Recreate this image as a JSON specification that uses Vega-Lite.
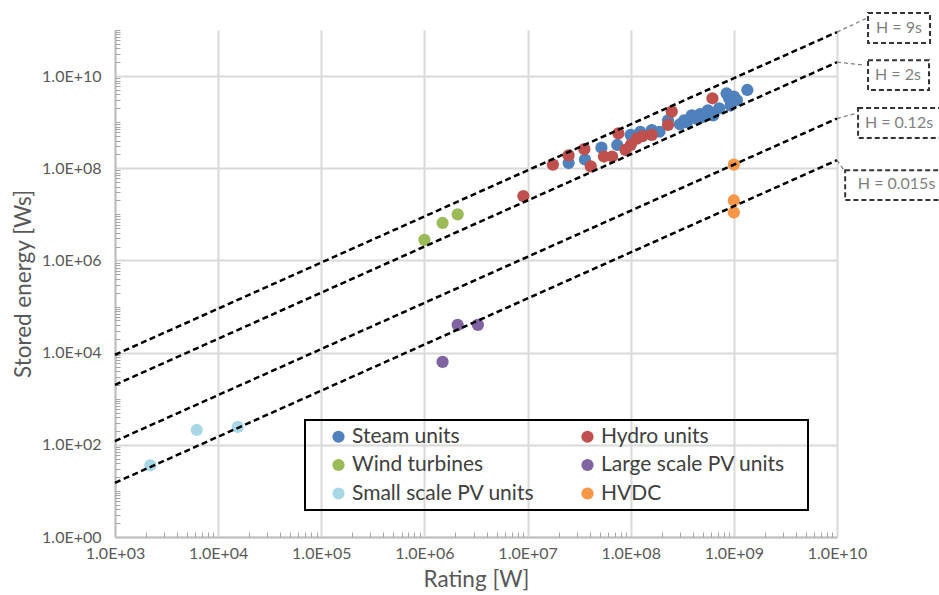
{
  "$schema": "https://vega.github.io/schema/vega-lite/v6.json",
  "width": 722,
  "height": 507,
  "autosize": {"type": "none"},
  "padding": {"left": 115, "top": 30, "right": 102, "bottom": 58},
  "background": "white",
  "config": {
    "view": {"stroke": null},
    "font": "Lato",
    "axis": {
      "labelFont": "Lato",
      "titleFont": "Lato",
      "labelColor": "#595959",
      "titleColor": "#595959",
      "titleFontWeight": "normal",
      "labelFontSize": 16,
      "titleFontSize": 22.5,
      "labelFlush": false
    },
    "legend": {"strokeWidth": 2}
  },
  "datasets": {
    "units": [
      {"series": "Steam units", "rating": 2.5e7, "energy": 1.3e8},
      {"series": "Steam units", "rating": 3.6e7, "energy": 1.55e8},
      {"series": "Steam units", "rating": 5.2e7, "energy": 2.8e8},
      {"series": "Steam units", "rating": 7.4e7, "energy": 3.2e8},
      {"series": "Steam units", "rating": 1.0e8, "energy": 5.3e8},
      {"series": "Steam units", "rating": 1.24e8, "energy": 6.2e8},
      {"series": "Steam units", "rating": 1.6e8, "energy": 6.7e8},
      {"series": "Steam units", "rating": 1.9e8, "energy": 6.2e8},
      {"series": "Steam units", "rating": 2.3e8, "energy": 1.1e9},
      {"series": "Steam units", "rating": 3.0e8, "energy": 9.0e8},
      {"series": "Steam units", "rating": 3.3e8, "energy": 1.1e9},
      {"series": "Steam units", "rating": 3.5e8, "energy": 1.0e9},
      {"series": "Steam units", "rating": 3.9e8, "energy": 1.4e9},
      {"series": "Steam units", "rating": 4.3e8, "energy": 1.2e9},
      {"series": "Steam units", "rating": 4.7e8, "energy": 1.5e9},
      {"series": "Steam units", "rating": 5.0e8, "energy": 1.3e9},
      {"series": "Steam units", "rating": 5.6e8, "energy": 1.8e9},
      {"series": "Steam units", "rating": 6.3e8, "energy": 1.4e9},
      {"series": "Steam units", "rating": 7.2e8, "energy": 2.0e9},
      {"series": "Steam units", "rating": 8.5e8, "energy": 4.2e9},
      {"series": "Steam units", "rating": 9.0e8, "energy": 3.3e9},
      {"series": "Steam units", "rating": 9.3e8, "energy": 2.3e9},
      {"series": "Steam units", "rating": 1.0e9, "energy": 3.6e9},
      {"series": "Steam units", "rating": 1.07e9, "energy": 3.0e9},
      {"series": "Steam units", "rating": 1.35e9, "energy": 5.0e9},
      {"series": "Hydro units", "rating": 9.1e6, "energy": 2.5e7},
      {"series": "Hydro units", "rating": 1.76e7, "energy": 1.2e8},
      {"series": "Hydro units", "rating": 2.5e7, "energy": 1.9e8},
      {"series": "Hydro units", "rating": 3.55e7, "energy": 2.6e8},
      {"series": "Hydro units", "rating": 4.1e7, "energy": 1.1e8},
      {"series": "Hydro units", "rating": 5.5e7, "energy": 1.8e8},
      {"series": "Hydro units", "rating": 6.6e7, "energy": 1.8e8},
      {"series": "Hydro units", "rating": 7.6e7, "energy": 5.7e8},
      {"series": "Hydro units", "rating": 8.9e7, "energy": 2.5e8},
      {"series": "Hydro units", "rating": 1.0e8, "energy": 3.2e8},
      {"series": "Hydro units", "rating": 1.15e8, "energy": 4.4e8},
      {"series": "Hydro units", "rating": 1.3e8, "energy": 5.0e8},
      {"series": "Hydro units", "rating": 1.6e8, "energy": 5.3e8},
      {"series": "Hydro units", "rating": 2.3e8, "energy": 8.7e8},
      {"series": "Hydro units", "rating": 2.5e8, "energy": 1.7e9},
      {"series": "Hydro units", "rating": 6.2e8, "energy": 3.3e9},
      {"series": "Wind turbines", "rating": 1.0e6, "energy": 2.8e6},
      {"series": "Wind turbines", "rating": 1.5e6, "energy": 6.5e6},
      {"series": "Wind turbines", "rating": 2.1e6, "energy": 1.0e7},
      {"series": "Large scale PV units", "rating": 2.1e6, "energy": 4.0e4},
      {"series": "Large scale PV units", "rating": 3.3e6, "energy": 4.0e4},
      {"series": "Large scale PV units", "rating": 1.5e6, "energy": 6.3e3},
      {"series": "Small scale PV units", "rating": 2.2e3, "energy": 36},
      {"series": "Small scale PV units", "rating": 6.2e3, "energy": 210},
      {"series": "Small scale PV units", "rating": 1.55e4, "energy": 245},
      {"series": "HVDC", "rating": 1.0e9, "energy": 1.2e8},
      {"series": "HVDC", "rating": 1.0e9, "energy": 2.0e7},
      {"series": "HVDC", "rating": 1.0e9, "energy": 1.1e7}
    ],
    "inertia_lines": [
      {"H": 9, "rating": 1e3, "energy": 9e3},
      {"H": 9, "rating": 1e10, "energy": 9e10},
      {"H": 2, "rating": 1e3, "energy": 2e3},
      {"H": 2, "rating": 1e10, "energy": 2e10},
      {"H": 0.12, "rating": 1e3, "energy": 120},
      {"H": 0.12, "rating": 1e10, "energy": 1.2e9},
      {"H": 0.015, "rating": 1e3, "energy": 15},
      {"H": 0.015, "rating": 1e10, "energy": 1.5e8}
    ],
    "inertia_labels": [
      {"label": "H = 9s", "tx": 3.99e10, "ty": 1.1e11, "bx1": 2.0e10, "bx2": 7.98e10, "by1": 2.33e11, "by2": 5.2e10, "lx1": 1e10, "ly1": 9e10, "lx2": 1.95e10, "ly2": 1.81e11},
      {"label": "H = 2s", "tx": 3.9e10, "ty": 1.05e10, "bx1": 2.0e10, "bx2": 7.8e10, "by1": 2.22e10, "by2": 4.97e9, "lx1": 1e10, "ly1": 2e10, "lx2": 1.87e10, "ly2": 1.73e10},
      {"label": "H = 0.12s", "tx": 3.99e10, "ty": 9.55e8, "bx1": 1.6e10, "bx2": 1.04e11, "by1": 2.02e9, "by2": 4.52e8, "lx1": 1e10, "ly1": 1.2e9, "lx2": 1.56e10, "ly2": 1.57e9},
      {"label": "H = 0.015s", "tx": 3.78e10, "ty": 4.5e7, "bx1": 1.2e10, "bx2": 1.11e11, "by1": 9.1e7, "by2": 2.04e7, "lx1": 1e10, "ly1": 1.5e8, "lx2": 1.2e10, "ly2": 8.3e7}
    ]
  },
  "layer": [
    {
      "data": {"name": "units"},
      "mark": {"type": "circle", "size": 150, "opacity": 1},
      "encoding": {
        "x": {
          "field": "rating",
          "type": "quantitative",
          "scale": {"type": "log", "domain": [1e3, 1e10], "nice": false},
          "axis": {
            "orient": "bottom",
            "title": "Rating [W]",
            "values": [1e3, 1e4, 1e5, 1e6, 1e7, 1e8, 1e9, 1e10],
            "labelExpr": "'1.0E+' + (round(log(datum.value) / LN10) < 10 ? '0' : '') + round(log(datum.value) / LN10)",
            "grid": true,
            "gridColor": "#D9D9D9",
            "gridWidth": 2,
            "ticks": false,
            "domain": true,
            "domainColor": "#BFBFBF",
            "domainWidth": 2,
            "labelPadding": 8,
            "titlePadding": 7
          }
        },
        "y": {
          "field": "energy",
          "type": "quantitative",
          "scale": {"type": "log", "domain": [1, 1e11], "nice": false},
          "axis": {
            "orient": "left",
            "title": "Stored energy [Ws]",
            "values": [1, 1e2, 1e4, 1e6, 1e8, 1e10],
            "labelExpr": "'1.0E+' + (round(log(datum.value) / LN10) < 10 ? '0' : '') + round(log(datum.value) / LN10)",
            "grid": true,
            "gridColor": "#D9D9D9",
            "gridWidth": 2,
            "ticks": false,
            "domain": true,
            "domainColor": "#BFBFBF",
            "domainWidth": 2,
            "labelPadding": 14,
            "titlePadding": 6
          }
        },
        "color": {
          "field": "series",
          "type": "nominal",
          "scale": {
            "domain": ["Steam units", "Wind turbines", "Small scale PV units", "Hydro units", "Large scale PV units", "HVDC"],
            "range": ["#4F81BD", "#9BBB59", "#A8D8E6", "#C0504D", "#8064A2", "#F79646"]
          },
          "legend": {
            "orient": "none",
            "legendX": 190,
            "legendY": 390,
            "columns": 2,
            "title": " ",
            "titleOrient": "right",
            "titleFontSize": 1,
            "titlePadding": 17,
            "strokeColor": "#000000",
            "padding": 6,
            "symbolType": "circle",
            "symbolSize": 150,
            "symbolStrokeWidth": 0,
            "symbolOpacity": 1,
            "symbolOffset": 17,
            "labelOffset": 3,
            "labelFont": "Lato",
            "labelFontSize": 21,
            "labelColor": "#404040",
            "labelLimit": 400,
            "rowPadding": 6.5,
            "columnPadding": 25
          }
        }
      }
    },
    {
      "data": {"name": "inertia_lines"},
      "mark": {"type": "line", "color": "#000000", "strokeWidth": 2.5, "strokeDash": [6, 3.5]},
      "encoding": {
        "x": {
          "field": "rating",
          "type": "quantitative",
          "scale": {"type": "log", "domain": [1e3, 1e10], "nice": false},
          "axis": {
            "orient": "bottom",
            "title": null,
            "labels": false,
            "grid": false,
            "domain": false,
            "ticks": true,
            "tickSize": -5,
            "tickColor": "#A6A6A6",
            "tickWidth": 1,
            "values": [2e3, 3e3, 4e3, 5e3, 6e3, 7e3, 8e3, 9e3, 2e4, 3e4, 4e4, 5e4, 6e4, 7e4, 8e4, 9e4, 2e5, 3e5, 4e5, 5e5, 6e5, 7e5, 8e5, 9e5, 2e6, 3e6, 4e6, 5e6, 6e6, 7e6, 8e6, 9e6, 2e7, 3e7, 4e7, 5e7, 6e7, 7e7, 8e7, 9e7, 2e8, 3e8, 4e8, 5e8, 6e8, 7e8, 8e8, 9e8, 2e9, 3e9, 4e9, 5e9, 6e9, 7e9, 8e9, 9e9]
          }
        },
        "y": {
          "field": "energy",
          "type": "quantitative",
          "scale": {"type": "log", "domain": [1, 1e11], "nice": false},
          "axis": {
            "orient": "left",
            "title": null,
            "labels": false,
            "grid": false,
            "domain": false,
            "ticks": true,
            "tickSize": -5,
            "tickColor": "#A6A6A6",
            "tickWidth": 1,
            "values": [2, 3, 4, 5, 6, 7, 8, 9, 10, 20, 30, 40, 50, 60, 70, 80, 90, 200, 300, 400, 500, 600, 700, 800, 900, 1e3, 2e3, 3e3, 4e3, 5e3, 6e3, 7e3, 8e3, 9e3, 2e4, 3e4, 4e4, 5e4, 6e4, 7e4, 8e4, 9e4, 1e5, 2e5, 3e5, 4e5, 5e5, 6e5, 7e5, 8e5, 9e5, 2e6, 3e6, 4e6, 5e6, 6e6, 7e6, 8e6, 9e6, 1e7, 2e7, 3e7, 4e7, 5e7, 6e7, 7e7, 8e7, 9e7, 2e8, 3e8, 4e8, 5e8, 6e8, 7e8, 8e8, 9e8, 1e9, 2e9, 3e9, 4e9, 5e9, 6e9, 7e9, 8e9, 9e9, 2e10, 3e10, 4e10, 5e10, 6e10, 7e10, 8e10, 9e10, 1e11]
          }
        },
        "detail": {"field": "H", "type": "nominal"}
      }
    },
    {
      "data": {"name": "inertia_labels"},
      "mark": {"type": "rule", "clip": false, "color": "#808080", "strokeWidth": 1.3, "strokeDash": [4, 3]},
      "encoding": {
        "x": {"field": "lx1", "type": "quantitative", "scale": {"type": "log", "domain": [1e3, 1e10], "nice": false}, "axis": null},
        "y": {"field": "ly1", "type": "quantitative", "scale": {"type": "log", "domain": [1, 1e11], "nice": false}, "axis": null},
        "x2": {"field": "lx2"},
        "y2": {"field": "ly2"}
      }
    },
    {
      "data": {"name": "inertia_labels"},
      "mark": {"type": "rect", "clip": false, "fill": "white", "stroke": "#333333", "strokeWidth": 2, "strokeDash": [5, 3]},
      "encoding": {
        "x": {"field": "bx1", "type": "quantitative", "scale": {"type": "log", "domain": [1e3, 1e10], "nice": false}, "axis": null},
        "x2": {"field": "bx2"},
        "y": {"field": "by1", "type": "quantitative", "scale": {"type": "log", "domain": [1, 1e11], "nice": false}, "axis": null},
        "y2": {"field": "by2"}
      }
    },
    {
      "data": {"name": "inertia_labels"},
      "mark": {"type": "text", "clip": false, "font": "Lato", "fontSize": 16, "color": "#7F7F7F", "align": "center", "baseline": "middle"},
      "encoding": {
        "x": {"field": "tx", "type": "quantitative", "scale": {"type": "log", "domain": [1e3, 1e10], "nice": false}, "axis": null},
        "y": {"field": "ty", "type": "quantitative", "scale": {"type": "log", "domain": [1, 1e11], "nice": false}, "axis": null},
        "text": {"field": "label", "type": "nominal"}
      }
    }
  ],
  "resolve": {"axis": {"x": "independent", "y": "independent"}}
}
